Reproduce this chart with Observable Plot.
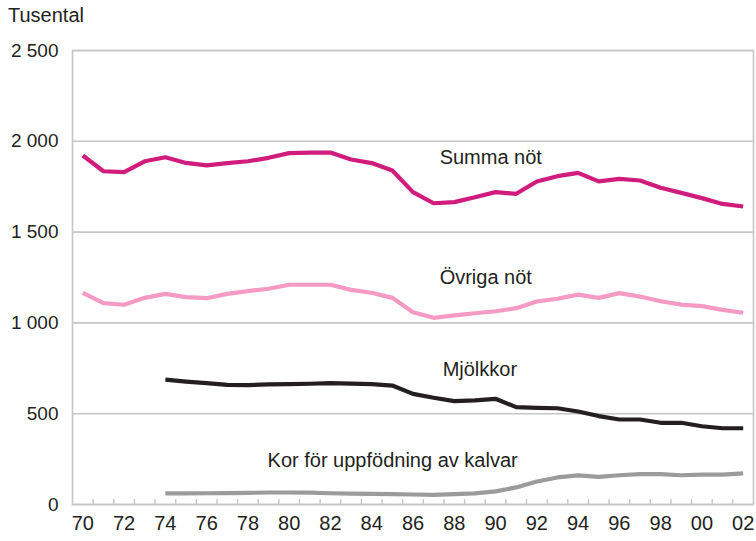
<!DOCTYPE html>
<html>
<head>
<meta charset="utf-8">
<script src="https://cdn.jsdelivr.net/npm/d3@7"></script>
<script src="https://cdn.jsdelivr.net/npm/@observablehq/plot@0.6"></script>
<style>
  body { margin: 0; background: #fff; font-family: "Liberation Sans", Arial, sans-serif; }
  #title { height: 28px; font-size: 20px; line-height: 30px; padding-left: 8px; color: #231f20; }
</style>
</head>
<body>
<div id="title">Tusental</div>
<div id="chart"></div>
<script>
const years = d3.range(1970, 2003);
const summaNot = [1922, 1835, 1830, 1890, 1912, 1881, 1867, 1880, 1890, 1909, 1935, 1938, 1938, 1900, 1880, 1839,
  1720, 1659, 1665, 1692, 1720, 1711, 1779, 1808, 1826, 1779, 1793, 1784, 1744, 1716, 1687, 1655, 1641];
const ovrigaNot = [1166, 1109, 1100, 1138, 1160, 1142, 1136, 1160, 1175, 1188, 1210, 1210, 1210, 1182, 1166, 1138,
  1059, 1028, 1041, 1053, 1064, 1081, 1118, 1133, 1156, 1138, 1164, 1145, 1119, 1101, 1092, 1072, 1056];
const yearsFrom74 = d3.range(1974, 2003);
const mjolkkor = [688, 677, 668, 659, 657, 661, 663, 665, 668, 666, 663, 655,
  609, 588, 569, 573, 582, 536, 532, 530, 512, 487, 468, 468, 450, 450, 431, 420, 420];
const kalvar = [61, 61, 62, 63, 64, 66, 66, 65, 62, 60, 58, 57, 55, 53,
  57, 61, 72, 94, 127, 149, 160, 152, 161, 167, 167, 161, 164, 164, 171];
const seriesNames = ["Summa nöt", "Övriga nöt", "Mjölkkor", "Kor för uppfödning av kalvar"];
const seriesColors = ["#cf1c7d", "#f49ac4", "#231f20", "#9b9b9b"];
const yTicks = [0, 500, 1000, 1500, 2000, 2500];
const xLabelYears = d3.range(1970, 2003, 2);

const rows = [];
years.forEach((yr, i) => rows.push({series: seriesNames[0], year: yr, value: summaNot[i]}));
years.forEach((yr, i) => rows.push({series: seriesNames[1], year: yr, value: ovrigaNot[i]}));
yearsFrom74.forEach((yr, i) => rows.push({series: seriesNames[2], year: yr, value: mjolkkor[i]}));
yearsFrom74.forEach((yr, i) => rows.push({series: seriesNames[3], year: yr, value: kalvar[i]}));

const pick = (name, yr) => rows.filter(r => r.series === name && r.year === yr);
const fmtY = d => d >= 1000 ? `${Math.floor(d / 1000)} ${String(d % 1000).padStart(3, "0")}` : String(d);
const boundaries = d3.range(1970.5, 2002.5, 1);

const gridColor = "#c6c6c6";
const labelStyle = {fill: "#231f20", fontSize: 20, textAnchor: "start", text: "series"};

const chart = Plot.plot({
  width: 756,
  height: 513,
  marginLeft: 72,
  marginRight: 3,
  marginTop: 22,
  marginBottom: 37,
  style: {fontFamily: "Liberation Sans, Arial, sans-serif", color: "#231f20", background: "#fff"},
  x: {domain: [1969.5, 2002.5]},
  y: {domain: [0, 2500]},
  color: {domain: seriesNames, range: seriesColors},
  marks: [
    Plot.gridY(yTicks, {stroke: gridColor, strokeOpacity: 1, strokeWidth: 1.6}),
    Plot.frame({stroke: gridColor, strokeWidth: 1.6}),
    Plot.axisY(yTicks, {tickSize: 0, tickPadding: 14, tickFormat: fmtY, fontSize: 19, label: null}),
    Plot.axisX(boundaries, {tickSize: -5, tickFormat: () => "", stroke: gridColor, strokeWidth: 1.4, label: null}),
    Plot.axisX(xLabelYears, {tickSize: 0, tickPadding: 11, tickFormat: d => String(d % 100).padStart(2, "0"),
      fontSize: 20, fontFamily: "Liberation Sans Narrow, Arial Narrow, Liberation Sans, sans-serif", label: null}),
    Plot.line(rows, {x: "year", y: "value", z: "series", stroke: "series", strokeWidth: 4.2, strokeLinejoin: "round", strokeLinecap: "butt"}),
    Plot.text(pick(seriesNames[0], 1987), {x: "year", y: "value", dx: 6, dy: -46, ...labelStyle}),
    Plot.text(pick(seriesNames[1], 1987), {x: "year", y: "value", dx: 6, dy: -40, ...labelStyle}),
    Plot.text(pick(seriesNames[2], 1987), {x: "year", y: "value", dx: 9, dy: -28, ...labelStyle}),
    Plot.text(pick(seriesNames[3], 1979), {x: "year", y: "value", dx: -1, dy: -32, ...labelStyle})
  ]
});
document.getElementById("chart").appendChild(chart);
</script>
</body>
</html>
